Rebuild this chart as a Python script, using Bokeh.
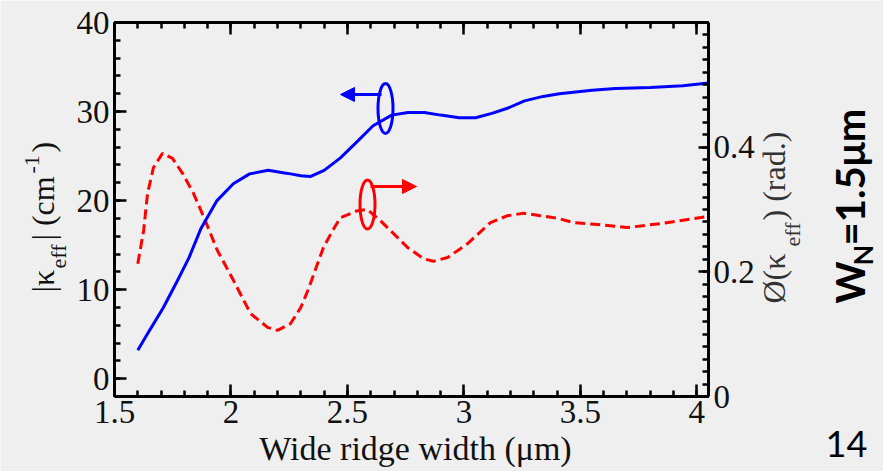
import math
from bokeh.plotting import figure
from bokeh.models import Range1d, LinearAxis, FixedTicker, Label, Arrow, NormalHead
from bokeh.embed import file_html
from bokeh.resources import INLINE

# ---------------- data ----------------
width_um_blue = [1.60, 1.65, 1.71, 1.77, 1.82, 1.87, 1.94, 2.01, 2.08, 2.16, 2.23, 2.256, 2.30,
                 2.34, 2.40, 2.47, 2.545, 2.61, 2.69, 2.76, 2.83, 2.90, 2.98, 3.05, 3.12, 3.19,
                 3.26, 3.34, 3.41, 3.48, 3.55, 3.65, 3.80, 3.94, 4.05]
kappa_abs = [3.2, 5.4, 8.0, 11.0, 13.6, 16.8, 20.0, 21.9, 23.0, 23.4, 23.1, 23.0, 22.8,
             22.7, 23.4, 24.8, 26.7, 28.4, 29.6, 29.9, 29.9, 29.6, 29.3, 29.3, 29.8, 30.4,
             31.2, 31.7, 32.0, 32.2, 32.4, 32.6, 32.7, 32.9, 33.2]

width_um_red = [1.60, 1.625, 1.642, 1.667, 1.706, 1.749, 1.792, 1.839, 1.882, 1.942, 2.011,
                2.084, 2.157, 2.20, 2.256, 2.30, 2.33, 2.397, 2.436, 2.47, 2.543, 2.586,
                2.642, 2.715, 2.758, 2.827, 2.869, 2.93, 3.015, 3.114, 3.187, 3.256, 3.329,
                3.402, 3.47, 3.574, 3.70, 3.857, 4.05]
kappa_phase = [0.213, 0.266, 0.326, 0.367, 0.390, 0.382, 0.358, 0.326, 0.289, 0.234, 0.186,
               0.133, 0.111, 0.106, 0.117, 0.143, 0.170, 0.239, 0.266, 0.287, 0.298, 0.300,
               0.282, 0.255, 0.239, 0.221, 0.217, 0.223, 0.245, 0.279, 0.290, 0.294, 0.290,
               0.286, 0.279, 0.276, 0.271, 0.278, 0.289]

x_ticks = [1.5, 2.0, 2.5, 3.0, 3.5, 4.0]
x_tick_labels = ["1.5", "2", "2.5", "3", "3.5", "4"]
left_ticks = [0, 10, 20, 30, 40]
left_tick_labels = ["0", "10", "20", "30", "40"]
right_ticks = [0.0, 0.2, 0.4]
right_tick_labels = ["0", "0.2", "0.4"]

# ---------------- geometry ----------------
W, H = 883, 471
FL, FR, FT, FB = 114, 708, 22, 396          # box of the plot inside the page
X0, X1 = 1.5, 4.05
Y0, Y1 = -2.0, 40.0
R0, R1 = 0.0, 0.6

kx = (X1 - X0) / (FR - FL)
ky = (Y1 - Y0) / (FB - FT)
kr = (R1 - R0) / (FB - FT)


def px_x(px):
    return X0 + (px - FL) * kx


def px_y(py):
    return Y0 + (FB - py) * ky


BG = "#efefef"
SERIF = "Liberation Serif"

p = figure(width=W, height=H,
           x_range=Range1d(X0 - FL * kx, X0 + (W - FL) * kx),
           y_range=Range1d(Y0 - (H - FB) * ky, Y0 + FB * ky),
           output_backend="svg", toolbar_location=None, title=None,
           x_axis_location=None, y_axis_location=None, min_border=0)
p.extra_y_ranges = {"phase": Range1d(R0 - (H - FB) * kr, R0 + FB * kr)}
p.xgrid.visible = False
p.ygrid.visible = False
p.background_fill_color = BG
p.border_fill_color = BG
p.outline_line_color = None


def style(ax):
    ax.axis_line_width = 3
    ax.axis_line_color = "black"
    ax.major_tick_in = 12
    ax.major_tick_out = 0
    ax.minor_tick_in = 6
    ax.minor_tick_out = 0
    ax.major_tick_line_width = 2.5
    ax.minor_tick_line_width = 2.5
    ax.major_tick_line_color = "black"
    ax.minor_tick_line_color = "black"
    ax.major_label_text_font = SERIF
    ax.major_label_text_color = "#111111"
    ax.major_label_text_font_size = "33px"
    ax.major_label_standoff = 5


x_minor = [round(1.5 + 0.1 * i, 2) for i in range(26)]
bottom = LinearAxis(ticker=FixedTicker(ticks=x_ticks, minor_ticks=x_minor),
                    fixed_location=Y0, bounds=(X0, X1))
style(bottom)
bottom.major_label_standoff = 4
bottom.major_label_overrides = {t: s for t, s in zip(x_ticks, x_tick_labels)}
p.add_layout(bottom, "below")

# top edge: ticks only, no labels
top_minor = LinearAxis(ticker=FixedTicker(ticks=[], minor_ticks=x_minor),
                       fixed_location=Y1, bounds=(X0, X1))
style(top_minor)
p.add_layout(top_minor, "above")
top_major = LinearAxis(ticker=FixedTicker(ticks=[], minor_ticks=x_ticks),
                       fixed_location=Y1, bounds=(X0, X1))
style(top_major)
top_major.minor_tick_in = 12
p.add_layout(top_major, "above")

left_minor = [v for v in range(-2, 41, 2)]
left = LinearAxis(ticker=FixedTicker(ticks=left_ticks, minor_ticks=left_minor),
                  fixed_location=X0, bounds=(Y0, Y1))
style(left)
left.major_label_overrides = {t: s for t, s in zip(left_ticks, left_tick_labels)}
p.add_layout(left, "left")

right_minor = [round(0.02 * i, 2) for i in range(31)]
right = LinearAxis(y_range_name="phase",
                   ticker=FixedTicker(ticks=right_ticks, minor_ticks=right_minor),
                   fixed_location=X1, bounds=(R0, R1))
style(right)
right.major_tick_in = 10
right.major_label_overrides = {t: s for t, s in zip(right_ticks, right_tick_labels)}
p.add_layout(right, "right")

# ---------------- curves ----------------
p.line(width_um_red, kappa_phase, y_range_name="phase", line_color="#ff0000",
       line_width=3, line_dash="10 5")
p.line(width_um_blue, kappa_abs, line_color="#0000ff", line_width=3)

# ---------------- ellipses + arrows ----------------
p.ellipse(x=[px_x(385)], y=[px_y(108)], width=15, height=50,
          width_units="screen", height_units="screen",
          fill_color=None, line_color="#0000ff", line_width=3)
p.ellipse(x=[px_x(367)], y=[px_y(204)], width=15, height=49,
          width_units="screen", height_units="screen",
          fill_color=None, line_color="#ff0000", line_width=3)
p.add_layout(Arrow(end=NormalHead(size=14, fill_color="#0000ff", line_color="#0000ff"),
                   x_start=px_x(381), y_start=px_y(94), x_end=px_x(340), y_end=px_y(94),
                   line_color="#0000ff", line_width=3))
p.add_layout(Arrow(end=NormalHead(size=14, fill_color="#ff0000", line_color="#ff0000"),
                   x_start=px_x(370), y_start=px_y(186), x_end=px_x(416), y_end=px_y(186),
                   line_color="#ff0000", line_width=3))


# ---------------- texts ----------------
SHIFT = 0.38   # observed offset of the drawn baseline below the anchor, in em


def lab(txt, px, py, size, font=SERIF, color="#111111", rotated=False, align="left",
        style_="normal"):
    # (px, py) is the wanted baseline start point in page pixels
    if rotated:
        px = px - SHIFT * size
        angle = math.pi / 2
    else:
        py = py - SHIFT * size
        angle = 0.0
    p.add_layout(Label(x=px_x(px), y=px_y(py), text=txt, text_font=font,
                       text_font_size=f"{size}px", text_color=color, angle=angle,
                       text_align=align, text_baseline="alphabetic",
                       text_font_style=style_))


# x axis title
lab("Wide ridge width (\u03bcm)", 415, 461, 34, align="center")
# left axis title  |κ_eff| (cm^-1)
lab("|\u03ba", 55, 292, 32, rotated=True)
lab("eff", 66, 268, 22, rotated=True)
lab("| (cm", 55, 240, 32, rotated=True)
lab("-1", 40, 173, 22, rotated=True)
lab(")", 55, 152, 32, rotated=True)
# right axis title  Ø(κ_eff) (rad.)
RC = "#333333"
lab("\u00d8(\u03ba", 786, 303, 32, color=RC, rotated=True)
lab("eff", 800, 246, 22, color=RC, rotated=True)
lab(") (rad.)", 786, 220, 32, color=RC, rotated=True)
# W_N = 1.5 μm
lab("W", 865, 303, 40, font="Lato", color="#000000", rotated=True, style_="bold")
lab("N", 872, 265, 27, font="Lato", color="#000000", rotated=True, style_="bold")
lab("=1.5\u03bcm", 865, 245, 40, font="Lato", color="#000000", rotated=True, style_="bold")
# page number
lab("14", 846, 457, 36, font="Lato", color="#000000", align="center")

open("out.html", "w").write(file_html(p, INLINE))
